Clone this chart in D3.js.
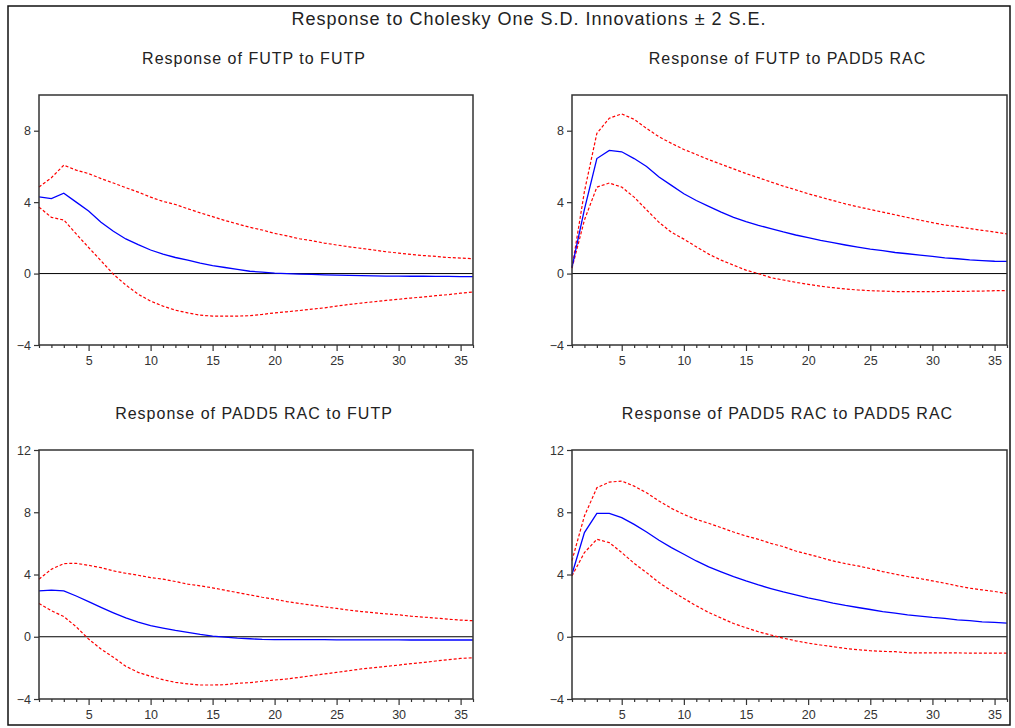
<!DOCTYPE html>
<html>
<head>
<meta charset="utf-8">
<script src="https://cdn.jsdelivr.net/npm/d3@7"></script>
<style>
  html, body { margin: 0; padding: 0; background: #fff; }
  svg { display: block; font-family: "Liberation Sans", Arial, sans-serif; }
</style>
</head>
<body>
<svg id="chart" width="1015" height="728"></svg>
<script>
// Impulse response horizon (periods 1..36)
const periods = d3.range(1, 37);

const mainTitle = "Response to Cholesky One S.D. Innovations \u00b1 2 S.E.";
const panelTitles = [
  "Response of FUTP to FUTP",
  "Response of FUTP to PADD5 RAC",
  "Response of PADD5 RAC to FUTP",
  "Response of PADD5 RAC to PADD5 RAC"
];

const xTickLabels = [5, 10, 15, 20, 25, 30, 35];
const yTicksTop = [-4, 0, 4, 8];
const yTicksBottom = [-4, 0, 4, 8, 12];

// FUTP to FUTP
const futpFutp = [4.3, 4.2, 4.5, 4.0, 3.5, 2.87, 2.37, 1.94, 1.62, 1.32, 1.09, 0.9, 0.75, 0.58, 0.45, 0.34, 0.23, 0.13, 0.08, 0.03,
  0.0, -0.03, -0.05, -0.07, -0.09, -0.1, -0.12, -0.13, -0.14, -0.14, -0.15, -0.15, -0.16, -0.16, -0.17, -0.17];
const futpFutpUp = [4.85, 5.37, 6.07, 5.79, 5.6, 5.32, 5.07, 4.81, 4.56, 4.28, 4.04, 3.87, 3.63, 3.4, 3.19, 2.97, 2.78, 2.59, 2.44, 2.25,
  2.11, 1.95, 1.84, 1.71, 1.6, 1.5, 1.41, 1.32, 1.22, 1.15, 1.07, 1.01, 0.96, 0.9, 0.87, 0.83];
const futpFutpLo = [3.72, 3.15, 3.0, 2.22, 1.46, 0.72, -0.04, -0.64, -1.16, -1.54, -1.82, -2.05, -2.2, -2.33, -2.38, -2.38, -2.38, -2.36, -2.29, -2.2,
  -2.14, -2.07, -1.99, -1.92, -1.82, -1.73, -1.65, -1.58, -1.5, -1.44, -1.37, -1.31, -1.24, -1.18, -1.1, -1.03];

// FUTP to PADD5 RAC
const futpRac = [0.35, 3.6, 6.44, 6.9, 6.82, 6.44, 6.0, 5.41, 4.94, 4.47, 4.09, 3.76, 3.44, 3.15, 2.91, 2.7, 2.52, 2.33, 2.16, 2.01,
  1.86, 1.73, 1.6, 1.48, 1.37, 1.28, 1.18, 1.11, 1.03, 0.96, 0.88, 0.83, 0.77, 0.73, 0.69, 0.68];
const futpRacUp = [0.3, 4.6, 7.85, 8.7, 8.94, 8.64, 8.13, 7.66, 7.29, 6.95, 6.67, 6.38, 6.12, 5.86, 5.6, 5.37, 5.13, 4.9, 4.69, 4.47,
  4.28, 4.09, 3.9, 3.74, 3.59, 3.44, 3.29, 3.14, 2.99, 2.85, 2.72, 2.63, 2.52, 2.42, 2.33, 2.22];
const futpRacLo = [0.3, 3.0, 4.84, 5.07, 4.84, 4.28, 3.57, 2.87, 2.31, 1.93, 1.5, 1.09, 0.75, 0.47, 0.19, 0.0, -0.23, -0.36, -0.49, -0.6,
  -0.71, -0.79, -0.86, -0.92, -0.96, -0.98, -1.01, -1.01, -1.01, -1.01, -1.0, -1.0, -0.99, -0.98, -0.96, -0.95];

// PADD5 RAC to FUTP
const racFutp = [2.95, 2.99, 2.95, 2.62, 2.26, 1.89, 1.54, 1.21, 0.94, 0.72, 0.56, 0.41, 0.28, 0.15, 0.04, -0.02, -0.09, -0.13, -0.17, -0.18,
  -0.18, -0.19, -0.19, -0.19, -0.2, -0.2, -0.2, -0.2, -0.2, -0.2, -0.21, -0.21, -0.21, -0.21, -0.21, -0.21];
const racFutpUp = [3.7, 4.34, 4.7, 4.72, 4.59, 4.44, 4.23, 4.08, 3.95, 3.8, 3.7, 3.55, 3.38, 3.27, 3.14, 2.99, 2.84, 2.69, 2.54, 2.41,
  2.26, 2.14, 2.03, 1.92, 1.82, 1.71, 1.62, 1.54, 1.47, 1.41, 1.32, 1.26, 1.2, 1.13, 1.07, 1.03];
const racFutpLo = [2.14, 1.67, 1.3, 0.64, -0.15, -0.79, -1.32, -1.9, -2.29, -2.54, -2.76, -2.93, -3.03, -3.1, -3.1, -3.08, -2.99, -2.95, -2.86, -2.78,
  -2.71, -2.61, -2.5, -2.39, -2.29, -2.18, -2.07, -1.99, -1.9, -1.82, -1.73, -1.65, -1.56, -1.47, -1.39, -1.35];

// PADD5 RAC to PADD5 RAC
const racRac = [4.02, 6.69, 7.93, 7.93, 7.65, 7.22, 6.73, 6.2, 5.73, 5.3, 4.87, 4.49, 4.17, 3.87, 3.59, 3.33, 3.1, 2.88, 2.69, 2.5,
  2.33, 2.16, 2.01, 1.88, 1.75, 1.62, 1.52, 1.41, 1.32, 1.24, 1.18, 1.09, 1.03, 0.96, 0.92, 0.88];
const racRacUp = [4.9, 7.76, 9.57, 9.94, 10.0, 9.68, 9.25, 8.72, 8.25, 7.86, 7.54, 7.29, 7.01, 6.73, 6.47, 6.26, 6.0, 5.79, 5.51, 5.3,
  5.09, 4.87, 4.7, 4.55, 4.38, 4.19, 4.02, 3.87, 3.74, 3.59, 3.44, 3.27, 3.12, 3.01, 2.91, 2.78];
const racRacLo = [3.91, 5.41, 6.26, 6.05, 5.41, 4.72, 4.12, 3.48, 2.95, 2.46, 1.99, 1.56, 1.2, 0.85, 0.58, 0.32, 0.11, -0.09, -0.26, -0.41,
  -0.53, -0.64, -0.75, -0.83, -0.9, -0.94, -0.96, -1.03, -1.03, -1.04, -1.04, -1.04, -1.05, -1.05, -1.05, -1.05];

const panels = [
  { title: panelTitles[0], mid: futpFutp, up: futpFutpUp, lo: futpFutpLo, yDomain: [-4, 10], yTicks: yTicksTop, x0: 39, x1: 473, y0: 95, y1: 345 },
  { title: panelTitles[1], mid: futpRac, up: futpRacUp, lo: futpRacLo, yDomain: [-4, 10], yTicks: yTicksTop, x0: 572, x1: 1007, y0: 95, y1: 345 },
  { title: panelTitles[2], mid: racFutp, up: racFutpUp, lo: racFutpLo, yDomain: [-4, 12], yTicks: yTicksBottom, x0: 39, x1: 473, y0: 450, y1: 699 },
  { title: panelTitles[3], mid: racRac, up: racRacUp, lo: racRacLo, yDomain: [-4, 12], yTicks: yTicksBottom, x0: 572, x1: 1007, y0: 450, y1: 699 }
];

const svg = d3.select("#chart");

// outer frame
svg.append("rect")
  .attr("x", 8).attr("y", 6).attr("width", 1002).attr("height", 719)
  .attr("fill", "#fff").attr("stroke", "#111").attr("stroke-width", 1.5);

svg.append("text")
  .attr("x", 529).attr("y", 25)
  .attr("text-anchor", "middle")
  .attr("font-size", 18).attr("letter-spacing", 1)
  .attr("fill", "#222")
  .text(mainTitle);

panels.forEach(p => {
  const x = d3.scaleLinear().domain([1, 36]).range([p.x0, p.x1]);
  const y = d3.scaleLinear().domain(p.yDomain).range([p.y1, p.y0]);
  const g = svg.append("g");

  g.append("text")
    .attr("x", (p.x0 + p.x1) / 2 - 2)
    .attr("y", p.y0 - 31)
    .attr("text-anchor", "middle")
    .attr("font-size", 16).attr("letter-spacing", 1)
    .attr("fill", "#222")
    .text(p.title);

  // zero line
  g.append("line")
    .attr("x1", p.x0).attr("x2", p.x1)
    .attr("y1", y(0)).attr("y2", y(0))
    .attr("stroke", "#000").attr("stroke-width", 1);

  const line = d3.line().x((d, i) => x(periods[i])).y(d => y(d));

  [p.up, p.lo].forEach(band => {
    g.append("path")
      .attr("d", line(band))
      .attr("fill", "none")
      .attr("stroke", "#ff0000")
      .attr("stroke-width", 1.2)
      .attr("stroke-dasharray", "3,2");
  });

  g.append("path")
    .attr("d", line(p.mid))
    .attr("fill", "none")
    .attr("stroke", "#0000ff")
    .attr("stroke-width", 1.3);

  // frame
  g.append("rect")
    .attr("x", p.x0).attr("y", p.y0)
    .attr("width", p.x1 - p.x0).attr("height", p.y1 - p.y0)
    .attr("fill", "none").attr("stroke", "#333").attr("stroke-width", 1.5);

  // y axis ticks and labels
  const yAxis = d3.axisLeft(y).tickValues(p.yTicks).tickSize(5).tickPadding(3);
  const ya = g.append("g").attr("transform", `translate(${p.x0},0)`).call(yAxis);
  ya.select(".domain").remove();
  ya.selectAll("line").attr("stroke", "#333").attr("stroke-width", 1.2);
  ya.selectAll("text").attr("font-size", 12.5).attr("fill", "#333")
    .attr("font-family", "Liberation Sans, Arial, sans-serif");

  // x axis: minor ticks every period, longer ticks with labels every 5
  const xMinor = d3.axisBottom(x).tickValues(periods.filter(t => t % 5 !== 0)).tickSize(3).tickFormat("");
  const xm = g.append("g").attr("transform", `translate(0,${p.y1})`).call(xMinor);
  xm.select(".domain").remove();
  xm.selectAll("line").attr("stroke", "#333").attr("stroke-width", 1.2);

  const xMajor = d3.axisBottom(x).tickValues(xTickLabels).tickSize(6).tickPadding(5);
  const xM = g.append("g").attr("transform", `translate(0,${p.y1})`).call(xMajor);
  xM.select(".domain").remove();
  xM.selectAll("line").attr("stroke", "#333").attr("stroke-width", 1.2);
  xM.selectAll("text").attr("font-size", 12.5).attr("fill", "#333")
    .attr("font-family", "Liberation Sans, Arial, sans-serif");
});
</script>
</body>
</html>
